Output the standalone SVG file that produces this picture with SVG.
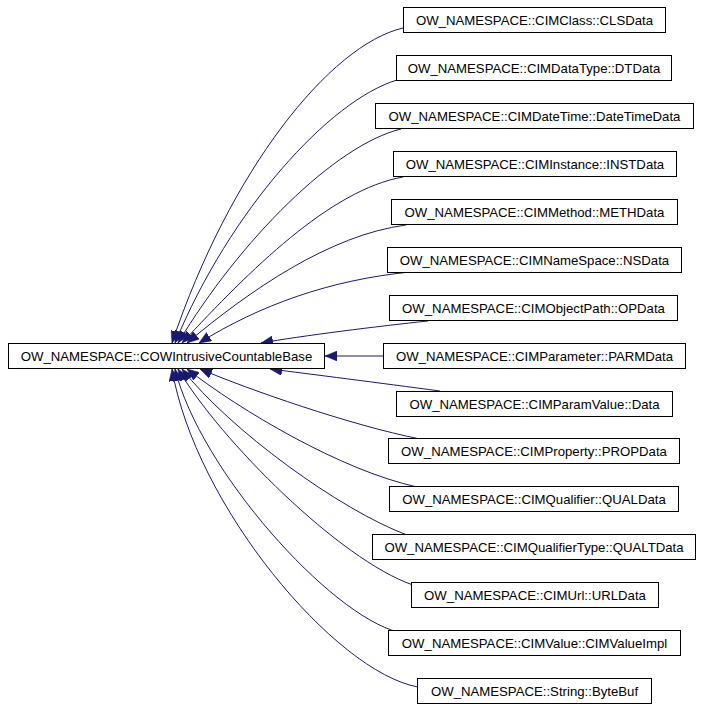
<svg xmlns="http://www.w3.org/2000/svg" width="701" height="709" viewBox="0 0 701 709">
<defs>
<style>
.node rect{fill:#ffffff;stroke:#000000;stroke-width:1}
.node text{font-family:"Liberation Sans",Arial,sans-serif;font-size:13.2px;fill:#000000;text-anchor:middle}
.edge{fill:none;stroke:#191970;stroke-width:1;marker-end:url(#arrow)}
</style>
<marker id="arrow" viewBox="0 0 12 10" refX="12" refY="5" markerWidth="12" markerHeight="10" markerUnits="userSpaceOnUse" orient="auto">
<path d="M0,0 L12,5 L0,10 z" fill="#191970" stroke="#191970" stroke-width="0.5"/>
</marker>
</defs>
<rect width="701" height="709" fill="#ffffff"/>
<g id="edges">
<path class="edge" d="M403,28 C330,45 230,170 172,343"/>
<path class="edge" d="M397,80 C330,100 230,210 175,343"/>
<path class="edge" d="M401,129 C335,145 240,240 178,343"/>
<path class="edge" d="M403,177 C330,190 250,270 182,343"/>
<path class="edge" d="M406,225 C330,235 250,290 187,343"/>
<path class="edge" d="M410,272 C330,280 260,305 199,343"/>
<path class="edge" d="M428,321 C380,326 300,336 261,343"/>
<path class="edge" d="M383,356 L325,356"/>
<path class="edge" d="M440,391 C380,383 310,374 270,369"/>
<path class="edge" d="M420,439 C350,425 250,390 200,369"/>
<path class="edge" d="M417,487 C340,470 240,410 187,369"/>
<path class="edge" d="M407,535 C340,510 230,430 182,369"/>
<path class="edge" d="M413,585 C340,560 220,440 178,369"/>
<path class="edge" d="M398,632 C330,615 200,470 175,369"/>
<path class="edge" d="M418,687 C335,672 195,505 172,369"/>
</g>
<g id="node-base" class="node"><rect x="8.5" y="343.5" width="316" height="25"/><text x="166.5" y="360.7">OW_NAMESPACE::COWIntrusiveCountableBase</text></g>
<g id="node-clsdata" class="node"><rect x="403.5" y="7.5" width="262" height="25"/><text x="534.5" y="24.7">OW_NAMESPACE::CIMClass::CLSData</text></g>
<g id="node-dtdata" class="node"><rect x="396.5" y="55.5" width="275" height="25"/><text x="534" y="72.7">OW_NAMESPACE::CIMDataType::DTData</text></g>
<g id="node-datetimedata" class="node"><rect x="375.5" y="103.5" width="318" height="25"/><text x="534.5" y="120.7">OW_NAMESPACE::CIMDateTime::DateTimeData</text></g>
<g id="node-instdata" class="node"><rect x="393.5" y="151.5" width="283" height="25"/><text x="535" y="168.7">OW_NAMESPACE::CIMInstance::INSTData</text></g>
<g id="node-methdata" class="node"><rect x="391.5" y="199.5" width="286" height="25"/><text x="534.5" y="216.7">OW_NAMESPACE::CIMMethod::METHData</text></g>
<g id="node-nsdata" class="node"><rect x="387.5" y="247.5" width="294" height="25"/><text x="534.5" y="264.7">OW_NAMESPACE::CIMNameSpace::NSData</text></g>
<g id="node-opdata" class="node"><rect x="389.5" y="295.5" width="288" height="25"/><text x="533.5" y="312.7">OW_NAMESPACE::CIMObjectPath::OPData</text></g>
<g id="node-parmdata" class="node"><rect x="383.5" y="343.5" width="302" height="25"/><text x="534.5" y="360.7">OW_NAMESPACE::CIMParameter::PARMData</text></g>
<g id="node-paramvaluedata" class="node"><rect x="396.5" y="391.5" width="276" height="25"/><text x="534.5" y="408.7">OW_NAMESPACE::CIMParamValue::Data</text></g>
<g id="node-propdata" class="node"><rect x="388.5" y="438.5" width="291" height="25"/><text x="534" y="455.7">OW_NAMESPACE::CIMProperty::PROPData</text></g>
<g id="node-qualdata" class="node"><rect x="389.5" y="486.5" width="289" height="25"/><text x="534" y="503.7">OW_NAMESPACE::CIMQualifier::QUALData</text></g>
<g id="node-qualtdata" class="node"><rect x="372.5" y="534.5" width="323" height="25"/><text x="534" y="551.7">OW_NAMESPACE::CIMQualifierType::QUALTData</text></g>
<g id="node-urldata" class="node"><rect x="411.5" y="582.5" width="247" height="25"/><text x="535" y="599.7">OW_NAMESPACE::CIMUrl::URLData</text></g>
<g id="node-cimvalueimpl" class="node"><rect x="388.5" y="630.5" width="292" height="25"/><text x="534.5" y="647.7">OW_NAMESPACE::CIMValue::CIMValueImpl</text></g>
<g id="node-bytebuf" class="node"><rect x="417.5" y="678.5" width="234" height="25"/><text x="534.5" y="695.7">OW_NAMESPACE::String::ByteBuf</text></g>
</svg>
